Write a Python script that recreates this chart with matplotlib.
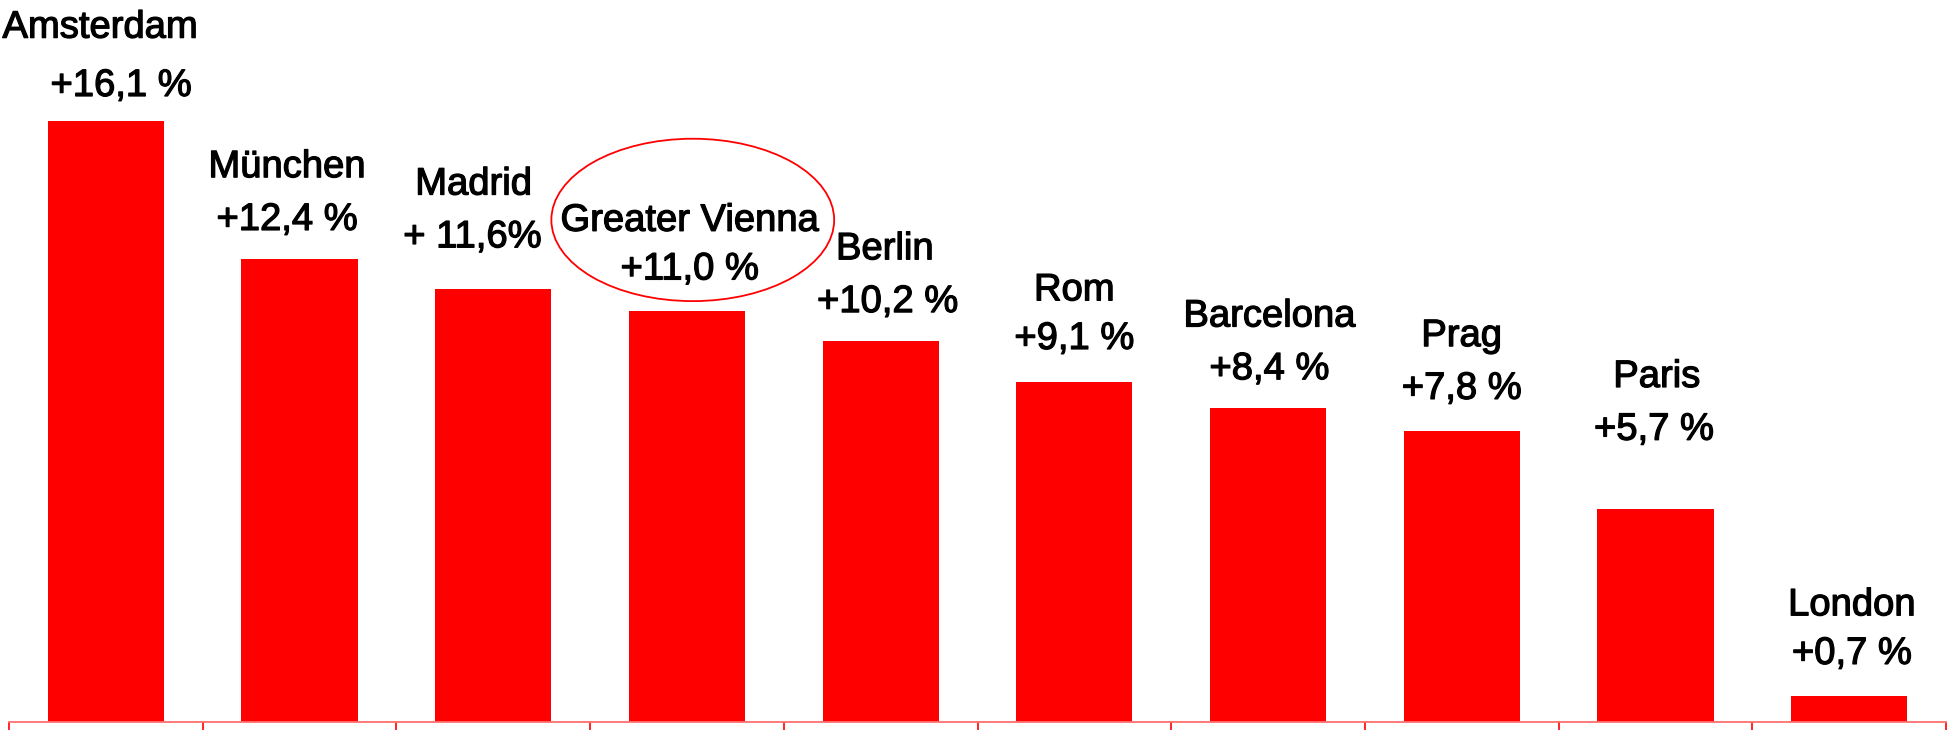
import numpy as np
import matplotlib.pyplot as plt
import matplotlib.patheffects as pe
from matplotlib.patches import Ellipse

plt.rcParams['font.family'] = ['Liberation Sans', 'DejaVu Sans']

cities = ['Amsterdam', 'München', 'Madrid', 'Greater Vienna', 'Berlin',
          'Rom', 'Barcelona', 'Prag', 'Paris', 'London']
growth = [16.1, 12.4, 11.6, 11.0, 10.2, 9.1, 8.4, 7.8, 5.7, 0.7]
value_labels = ['+16,1 %', '+12,4 %', '+ 11,6%', '+11,0 %', '+10,2 %',
                '+9,1 %', '+8,4 %', '+7,8 %', '+5,7 %', '+0,7 %']

# label placement tweaks (points): gap above bar, line pitch, x shift of name / value
gap = [18, 21, 30, 23, 21, 24, 21, 23, 50, 23]
pitch = [42, 38, 38, 35, 38, 35, 38, 38, 38, 35]
dx_name = [-4, -9, -14, 2, 3, 0, 1, 0, 1, 2]
dx_val = [11, -9, -15, 2, 5, 0, 1, 0, -1, 2]

fig = plt.figure(figsize=(19.5, 7.3), dpi=100)
ax = fig.add_axes([9 / 1950, 8 / 730, 1937 / 1950, 714 / 730])

x = np.arange(len(cities))
ax.bar(x, growth, width=0.6, color='#ff0000', edgecolor='none')

ax.set_xlim(-0.5, len(cities) - 0.5)
ax.set_ylim(0, 16.1 * 714 / 601)

for s in ['top', 'right', 'left']:
    ax.spines[s].set_visible(False)
ax.spines['bottom'].set_color('#ff7070')
ax.spines['bottom'].set_linewidth(1.3)
ax.set_yticks([])
ax.set_xticks(np.arange(len(cities) + 1) - 0.5)
ax.set_xticklabels([])
ax.tick_params(axis='x', direction='out', length=6, width=1.2, color='#ff0000')

heavy = [pe.withStroke(linewidth=0.9, foreground='black')]
for i, (c, v, lab) in enumerate(zip(cities, growth, value_labels)):
    ax.annotate(lab, (i, v), xytext=(dx_val[i], gap[i]), textcoords='offset points',
                ha='center', va='baseline', fontsize=27.5, color='black',
                path_effects=heavy, annotation_clip=False)
    ax.annotate(c, (i, v), xytext=(dx_name[i], gap[i] + pitch[i]), textcoords='offset points',
                ha='center', va='baseline', fontsize=27.5, color='black',
                path_effects=heavy, annotation_clip=False)

# highlight Vienna
iv = cities.index('Greater Vienna')
ell = Ellipse((iv + 0.03, growth[iv] + 2.45), width=1.46, height=4.35,
              fill=False, edgecolor='#ff0000', linewidth=1.3, clip_on=False)
ax.add_patch(ell)

fig.savefig('out.png', dpi=100)
